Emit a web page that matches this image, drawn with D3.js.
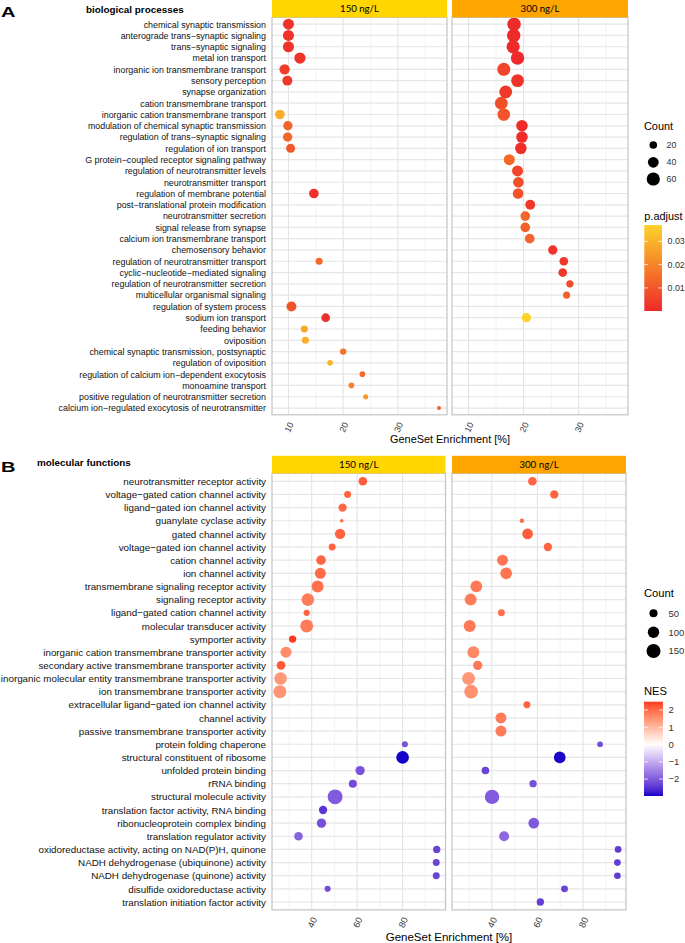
<!DOCTYPE html>
<html><head><meta charset="utf-8">
<script src="https://cdn.jsdelivr.net/npm/d3@7"></script>
<style>body{margin:0;background:#fff}svg{display:block}text{font-family:"Liberation Sans",Arial,sans-serif}</style>
</head><body><svg id="c" width="685" height="943"></svg>
<script>
// ---------------- DATA ----------------
const groups = ["150 ng/L", "300 ng/L"];
const stripColors = ["#FFD600", "#FFA500"];

const bpTerms = [
 "chemical synaptic transmission","anterograde trans\u2212synaptic signaling","trans\u2212synaptic signaling",
 "metal ion transport","inorganic ion transmembrane transport","sensory perception","synapse organization",
 "cation transmembrane transport","inorganic cation transmembrane transport","modulation of chemical synaptic transmission",
 "regulation of trans\u2212synaptic signaling","regulation of ion transport","G protein\u2212coupled receptor signaling pathway",
 "regulation of neurotransmitter levels","neurotransmitter transport","regulation of membrane potential",
 "post\u2212translational protein modification","neurotransmitter secretion","signal release from synapse",
 "calcium ion transmembrane transport","chemosensory behavior","regulation of neurotransmitter transport",
 "cyclic\u2212nucleotide\u2212mediated signaling","regulation of neurotransmitter secretion","multicellular organismal signaling",
 "regulation of system process","sodium ion transport","feeding behavior","oviposition",
 "chemical synaptic transmission, postsynaptic","regulation of oviposition","regulation of calcium ion\u2212dependent exocytosis",
 "monoamine transport","positive regulation of neurotransmitter secretion","calcium ion\u2212regulated exocytosis of neurotransmitter"];

const bp150Enrich = [10.0,10.0,10.0,12.1,9.3,9.8,null,null,8.45,9.9,9.85,10.4,null,null,null,14.65,null,null,null,null,null,15.6,null,null,null,10.55,16.8,12.9,13.1,20.0,17.6,23.5,21.5,24.1,37.5];
const bp150Count  = [42,42,42,44,37,34,null,null,32,30,30,28,null,null,null,32,null,null,null,null,null,17,null,null,null,34,26,17,17,14,11,11,11,9,5];
const bp150Padj   = [0.002,0.002,0.002,0.002,0.004,0.003,null,null,0.029,0.013,0.013,0.010,null,null,null,0.002,null,null,null,null,null,0.014,null,null,null,0.009,0.001,0.028,0.029,0.016,0.030,0.014,0.019,0.024,0.011];

const bp300Enrich = [18.27,18.2,18.1,18.9,16.4,18.9,16.75,15.95,16.4,19.7,19.7,19.5,17.4,18.9,19.05,19.0,21.2,20.3,20.3,21.1,25.3,27.3,27.1,28.4,27.8,null,20.5,null,null,null,null,null,null,null,null];
const bp300Count  = [62,62,60,62,58,56,56,56,55,46,46,46,42,42,39,39,34,32,32,32,30,26,26,18,17,null,30,null,null,null,null,null,null,null,null];
const bp300Padj   = [0.0001,0.0001,0.0002,0.0003,0.006,0.002,0.003,0.008,0.009,0.0005,0.0005,0.001,0.014,0.006,0.008,0.009,0.003,0.013,0.012,0.013,0.002,0.003,0.003,0.007,0.012,null,0.037,null,null,null,null,null,null,null,null];

const mfTerms = [
 "neurotransmitter receptor activity","voltage\u2212gated cation channel activity","ligand\u2212gated ion channel activity",
 "guanylate cyclase activity","gated channel activity","voltage\u2212gated ion channel activity","cation channel activity",
 "ion channel activity","transmembrane signaling receptor activity","signaling receptor activity",
 "ligand\u2212gated cation channel activity","molecular transducer activity","symporter activity",
 "inorganic cation transmembrane transporter activity","secondary active transmembrane transporter activity",
 "inorganic molecular entity transmembrane transporter activity","ion transmembrane transporter activity",
 "extracellular ligand\u2212gated ion channel activity","channel activity","passive transmembrane transporter activity",
 "protein folding chaperone","structural constituent of ribosome","unfolded protein binding","rRNA binding",
 "structural molecule activity","translation factor activity, RNA binding","ribonucleoprotein complex binding",
 "translation regulator activity","oxidoreductase activity, acting on NAD(P)H, quinone",
 "NADH dehydrogenase (ubiquinone) activity","NADH dehydrogenase (quinone) activity",
 "disulfide oxidoreductase activity","translation initiation factor activity"];

const mf150Enrich = [62.5,55.8,53.6,53.2,52.5,49.0,44.1,43.8,42.6,38.3,37.8,37.8,31.6,28.7,26.5,26.3,26.0,null,null,null,81.0,80.0,61.3,58.1,50.3,45.0,44.3,34.2,95.0,94.8,94.8,47.0,null];
const mf150Count  = [57,37,53,10,82,37,71,93,110,122,30,129,41,93,57,122,129,null,null,null,28,122,66,49,170,53,66,57,41,37,37,28,null];
const mf150NES    = [2.15,2.1,2.05,2.0,2.1,2.1,2.05,2.0,1.95,1.8,2.1,1.8,2.48,1.6,2.2,1.45,1.5,null,null,null,-2.1,-2.98,-2.1,-2.2,-2.0,-2.45,-2.15,-1.9,-2.3,-2.3,-2.3,-2.2,null];

const mf300Enrich = [57.8,67.4,null,53.2,55.7,64.6,44.7,46.3,33.2,30.7,44.2,30.3,null,31.9,33.8,29.8,30.9,55.4,44.0,44.0,87.5,69.8,37.2,58.1,40.1,null,58.4,45.4,95.4,95.1,95.1,71.9,61.3];
const mf300Count  = [57,53,null,15,87,53,93,105,105,110,37,110,null,110,66,129,143,37,93,93,25,105,45,41,158,null,87,76,34,34,34,37,41];
const mf300NES    = [2.1,2.1,null,2.0,2.15,2.1,1.9,1.9,1.85,1.8,1.95,1.85,null,1.65,1.85,1.45,1.55,2.1,1.8,1.8,-2.2,-2.95,-2.3,-2.15,-2.0,null,-2.05,-1.85,-2.4,-2.4,-2.4,-2.3,-2.35];

const bpXTicks = [10,20,30], bpXMinor = [15,25,35];
const mfXTicks = [40,60,80], mfXMinor = [30,50,70,90];
const bpCountBreaks = [20,40,60], mfCountBreaks = [50,100,150];
const padjBreaks = [0.01,0.02,0.03], nesBreaks = [2,1,0,-1,-2];

// ---------------- DRAW ----------------
const svg = d3.select("#c");
svg.append("rect").attr("width",685).attr("height",943).attr("fill","#fff");

function facetPlot(o){
  const y = d3.scalePoint().domain(o.terms).range([o.top,o.bottom]).padding(0.6);
  const allX = o.series.flatMap(s=>s.enrich).filter(v=>v!=null);
  const [mn,mx] = d3.extent(allX), pad=(mx-mn)*0.05;
  o.panels.forEach((p,gi)=>{
    const x = d3.scaleLinear().domain([mn-pad,mx+pad]).range(p);
    const g = svg.append("g");
    g.append("rect").attr("x",p[0]).attr("y",o.top).attr("width",p[1]-p[0]).attr("height",o.bottom-o.top).attr("fill","#fff");
    g.selectAll(".mi").data(o.minor).join("line")
      .attr("x1",d=>x(d)).attr("x2",d=>x(d)).attr("y1",o.top).attr("y2",o.bottom)
      .attr("stroke","#EEEEEE").attr("stroke-width",0.7);
    g.selectAll(".ma").data(o.ticks).join("line")
      .attr("x1",d=>x(d)).attr("x2",d=>x(d)).attr("y1",o.top).attr("y2",o.bottom)
      .attr("stroke","#E3E3E3").attr("stroke-width",1.1);
    g.selectAll(".hr").data(o.terms).join("line")
      .attr("x1",p[0]).attr("x2",p[1]).attr("y1",d=>y(d)).attr("y2",d=>y(d))
      .attr("stroke","#E6E6E6").attr("stroke-width",1.2);
    const s = o.series[gi];
    const pts = o.terms.map((t,i)=>({t,x:s.enrich[i],c:s.count[i],v:s.val[i]})).filter(d=>d.x!=null);
    g.selectAll("circle").data(pts).join("circle")
      .attr("cx",d=>x(d.x)).attr("cy",d=>y(d.t)).attr("r",d=>o.size(d.c)).attr("fill",d=>o.color(d.v));
    g.append("rect").attr("x",p[0]).attr("y",o.top).attr("width",p[1]-p[0]).attr("height",o.bottom-o.top)
      .attr("fill","none").attr("stroke","#C4C4C4").attr("stroke-width",1.2);
    g.append("rect").attr("x",p[0]).attr("y",o.top-o.stripH).attr("width",p[1]-p[0]).attr("height",o.stripH).attr("fill",stripColors[gi]);
    g.append("text").attr("x",(p[0]+p[1])/2).attr("y",o.top-o.stripH/2).attr("dy","0.35em")
      .attr("text-anchor","middle").style("font-family","Lato, 'Open Sans', sans-serif")
      .style("font-size",o.stripFont+"px").attr("fill","#000").text(groups[gi]);
    const ax = g.append("g").attr("transform",`translate(0,${o.bottom})`)
      .call(d3.axisBottom(x).tickValues(o.ticks).tickSize(0).tickFormat(d3.format("d")));
    ax.select(".domain").remove();
    ax.selectAll("text").attr("y",0).attr("dy","0.35em").attr("text-anchor","middle")
      .attr("transform",`translate(0,${o.tickOff}) rotate(-65)`)
      .style("font-size",o.tickFont+"px").style("font-family","'Liberation Sans',Arial,sans-serif").attr("fill","#3A3A3A");
  });
  const ay = svg.append("g").attr("transform",`translate(${o.panels[0][0]},0)`)
    .call(d3.axisLeft(y).tickSize(0).tickPadding(6));
  ay.select(".domain").remove();
  ay.selectAll("text").style("font-size",o.labelFont+"px").style("font-family","'Liberation Sans',Arial,sans-serif").attr("fill","#111");
  svg.append("text").attr("x",(o.panels[0][0]+o.panels[1][1])/2).attr("y",o.titleY)
    .attr("text-anchor","middle").style("font-size",o.axisTitleFont+"px").attr("fill","#000").text("GeneSet Enrichment [%]");
}

function sizeLegend(o){
  svg.append("text").attr("x",o.x).attr("y",o.titleY).style("font-size",o.titleFont+"px").attr("fill","#000").text("Count");
  o.breaks.forEach((b,i)=>{
    svg.append("circle").attr("cx",o.cx).attr("cy",o.ys[i]).attr("r",o.size(b)).attr("fill","#000");
    svg.append("text").attr("x",o.lx).attr("y",o.ys[i]).attr("dy","0.35em").style("font-size",o.labFont+"px").attr("fill","#333").text(b);
  });
}

function colorBar(o){
  const id="grad"+o.name.replace(/\W/g,"");
  const [lo,hi]=o.domain;
  const grad=svg.append("defs").append("linearGradient").attr("id",id).attr("x1",0).attr("x2",0).attr("y1",1).attr("y2",0);
  d3.range(0,1.0001,0.05).forEach(t=>grad.append("stop").attr("offset",t).attr("stop-color",o.color(lo+(hi-lo)*t)));
  svg.append("text").attr("x",o.x).attr("y",o.titleY).style("font-size",o.titleFont+"px").attr("fill","#000").text(o.name);
  svg.append("rect").attr("x",o.x).attr("y",o.y0).attr("width",o.w).attr("height",o.y1-o.y0).attr("fill",`url(#${id})`);
  const sy=d3.scaleLinear().domain([lo,hi]).range([o.y1,o.y0]);
  o.breaks.forEach(b=>{
    const yy=sy(b);
    svg.append("line").attr("x1",o.x).attr("x2",o.x+o.w*0.2).attr("y1",yy).attr("y2",yy).attr("stroke","#fff").attr("stroke-width",0.8);
    svg.append("line").attr("x1",o.x+o.w*0.8).attr("x2",o.x+o.w).attr("y1",yy).attr("y2",yy).attr("stroke","#fff").attr("stroke-width",0.8);
    svg.append("text").attr("x",o.lx).attr("y",yy).attr("dy","0.35em").style("font-size",o.labFont+"px").attr("fill","#333")
      .text(o.fmt(b));
  });
}

// ----- Panel A -----
const allPadj=[...bp150Padj,...bp300Padj].filter(v=>v!=null);
const padjDomain=d3.extent(allPadj);
const padjColor=d3.scaleLinear().domain(padjDomain).range(["#EE2A2A","#FDD22A"]);
const sizeA=d3.scaleSqrt().domain([0,60]).range([0,6.6]);

svg.append("text").attr("x",1).attr("y",17).attr("textLength",14.5).attr("lengthAdjust","spacingAndGlyphs")
  .style("font-size","15px").style("font-weight","bold").attr("fill","#000").text("A");
svg.append("text").attr("x",86).attr("y",12.5).style("font-size","9.9px").style("font-weight","bold").attr("fill","#000").text("biological processes");

facetPlot({terms:bpTerms, top:17.4, bottom:414.8, stripH:17.4,
  panels:[[272,447],[452,628]],
  series:[{enrich:bp150Enrich,count:bp150Count,val:bp150Padj},{enrich:bp300Enrich,count:bp300Count,val:bp300Padj}],
  ticks:bpXTicks, minor:bpXMinor, size:sizeA, color:padjColor,
  labelFont:8.9, tickFont:8.8, tickOff:12.5, stripFont:9.6, axisTitleFont:10.9, titleY:443});

sizeLegend({x:644,titleY:129.8,titleFont:10.9,breaks:bpCountBreaks,ys:[145,162.3,179],cx:653.3,lx:666.5,labFont:8.9,size:sizeA});
colorBar({name:"p.adjust",domain:padjDomain,color:padjColor,x:644.3,w:17.7,y0:225,y1:311,titleY:219.8,titleFont:10.9,
  breaks:padjBreaks,lx:667.5,labFont:8.9,fmt:d3.format(".2f")});

// ----- Panel B -----
const allNES=[...mf150NES,...mf300NES].filter(v=>v!=null);
const nesDomain=d3.extent(allNES);
const nesColor=d3.scaleLinear().domain([nesDomain[0],0,nesDomain[1]]).range(["#1400C8","#FFFFFF","#FF3A1E"]).interpolate(d3.interpolateLab);
const sizeB=d3.scaleSqrt().domain([0,150]).range([0,7]);

svg.append("text").attr("x",1).attr("y",471.5).attr("textLength",14.5).attr("lengthAdjust","spacingAndGlyphs")
  .style("font-size","15px").style("font-weight","bold").attr("fill","#000").text("B");
svg.append("text").attr("x",37).attr("y",465.5).style("font-size","9.9px").style("font-weight","bold").attr("fill","#000").text("molecular functions");

facetPlot({terms:mfTerms, top:473.4, bottom:909.9, stripH:17.6,
  panels:[[272,445.5],[452,626]],
  series:[{enrich:mf150Enrich,count:mf150Count,val:mf150NES},{enrich:mf300Enrich,count:mf300Count,val:mf300NES}],
  ticks:mfXTicks, minor:mfXMinor, size:sizeB, color:nesColor,
  labelFont:9.8, tickFont:9.2, tickOff:12.5, stripFont:9.8, axisTitleFont:11.5, titleY:940.5});

sizeLegend({x:644,titleY:597,titleFont:11.2,breaks:mfCountBreaks,ys:[613.3,632.3,651],cx:653.5,lx:668.5,labFont:9.5,size:sizeB});
colorBar({name:"NES",domain:nesDomain,color:nesColor,x:644,w:19,y0:701.7,y1:796,titleY:694.5,titleFont:11.2,
  breaks:nesBreaks,lx:668.5,labFont:9.5,fmt:d=>d3.format("d")(d).replace("-","\u2212")});
</script></body></html>
